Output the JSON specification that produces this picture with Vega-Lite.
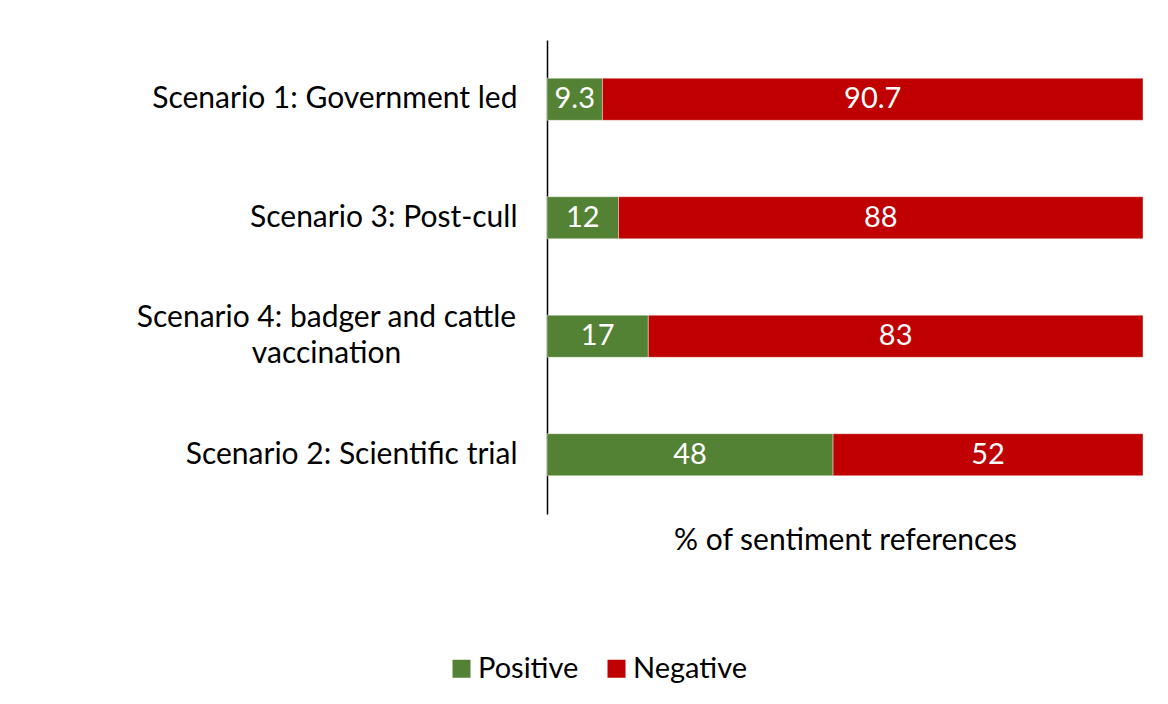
{
  "$schema": "https://vega.github.io/schema/vega-lite/v6.json",
  "autosize": {"type": "none"},
  "width": 596,
  "height": 474,
  "padding": {"left": 547, "top": 40, "right": 25, "bottom": 190},
  "background": "white",
  "config": {
    "font": "Lato",
    "view": {"stroke": null}
  },
  "data": {
    "values": [
      {"scenario": "Scenario 1: Government led", "sentiment": "Positive", "value": 9.3, "k": 1},
      {"scenario": "Scenario 1: Government led", "sentiment": "Negative", "value": 90.7, "k": 2},
      {"scenario": "Scenario 3: Post-cull ", "sentiment": "Positive", "value": 12, "k": 1},
      {"scenario": "Scenario 3: Post-cull ", "sentiment": "Negative", "value": 88, "k": 2},
      {"scenario": "Scenario 4: badger and cattle vaccination", "sentiment": "Positive", "value": 17, "k": 1},
      {"scenario": "Scenario 4: badger and cattle vaccination", "sentiment": "Negative", "value": 83, "k": 2},
      {"scenario": "Scenario 2: Scientific trial", "sentiment": "Positive", "value": 48, "k": 1},
      {"scenario": "Scenario 2: Scientific trial", "sentiment": "Negative", "value": 52, "k": 2}
    ]
  },
  "encoding": {
    "y": {
      "field": "scenario",
      "type": "nominal",
      "sort": null,
      "scale": {"paddingInner": 0.645, "paddingOuter": 0.3225},
      "axis": {
        "title": null,
        "domainColor": "black",
        "domainWidth": 1.5,
        "ticks": false,
        "labelFontSize": 30,
        "labelColor": "black",
        "labelLimit": 600,
        "labelExpr": "datum.value == 'Scenario 4: badger and cattle vaccination' ? ['Scenario 4: badger and cattle', 'vaccination'] : datum.value",
        "labelLineHeight": 36,
        "labelAlign": {"condition": {"test": "datum.value == 'Scenario 4: badger and cattle vaccination'", "value": "center"}, "value": "right"},
        "labelPadding": {"condition": {"test": "datum.value == 'Scenario 4: badger and cattle vaccination'", "value": 221}, "value": 30},
        "labelOffset": {"condition": {"test": "datum.value == 'Scenario 4: badger and cattle vaccination'", "value": -18}, "value": 0}
      }
    },
    "x": {
      "field": "value",
      "type": "quantitative",
      "stack": "zero",
      "scale": {"domain": [0, 100], "nice": false},
      "axis": {
        "title": "% of sentiment references",
        "titleFontSize": 30,
        "titleFontWeight": "normal",
        "titleColor": "black",
        "titlePadding": 11,
        "labels": false,
        "ticks": false,
        "domain": false,
        "grid": false
      }
    },
    "order": {"field": "k", "type": "quantitative"}
  },
  "layer": [
    {
      "mark": {"type": "bar", "stroke": "white", "strokeOpacity": 0.4, "strokeWidth": 1},
      "encoding": {
        "color": {
          "field": "sentiment",
          "type": "nominal",
          "scale": {"domain": ["Positive", "Negative"], "range": ["#548235", "#C00000"]},
          "legend": {
            "title": null,
            "orient": "none",
            "direction": "horizontal",
            "legendX": -100,
            "legendY": 614,
            "symbolType": "square",
            "symbolSize": 324,
            "symbolStrokeWidth": 0,
            "labelFontSize": 29,
            "labelColor": "black",
            "columnPadding": 23,
            "labelOffset": 2
          }
        }
      }
    },
    {
      "transform": [
        {"stack": "value", "groupby": ["scenario"], "sort": [{"field": "k"}], "as": ["v0", "v1"]},
        {"calculate": "(datum.v0 + datum.v1) / 2", "as": "mid"}
      ],
      "mark": {"type": "text", "color": "white", "fontSize": 29},
      "encoding": {
        "x": {"field": "mid", "type": "quantitative", "stack": null},
        "text": {"field": "value", "type": "quantitative"}
      }
    }
  ]
}
